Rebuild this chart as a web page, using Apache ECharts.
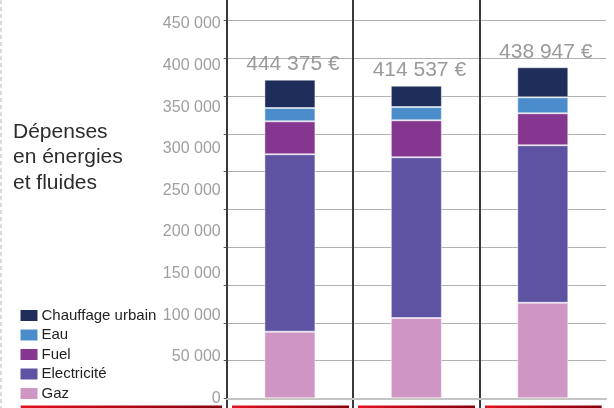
<!DOCTYPE html>
<html>
<head>
<meta charset="utf-8">
<script src="https://cdn.jsdelivr.net/npm/echarts@6/dist/echarts.min.js"></script>
<style>
html,body{margin:0;padding:0;background:#fff;}
#chart{width:614px;height:408px;}
</style>
</head>
<body>
<div id="chart"></div>
<script>
// ---- data ----
var categories = ['Période 1', 'Période 2', 'Période 3'];
var gaz = [80100, 96500, 114900];
var electricite = [213300, 193300, 189300];
var fuel = [39600, 44400, 38500];
var eau = [16000, 16000, 19200];
var chauffageUrbain = [34100, 25600, 36100];
var totalLabels = ['444 375 €', '414 537 €', '438 947 €'];
var legendOrder = ['Chauffage urbain', 'Eau', 'Fuel', 'Electricité', 'Gaz'];
var titleText = 'Dépenses\nen énergies\net fluides';

var colors = {
  'Gaz': '#cf96c4',
  'Electricité': '#5e53a2',
  'Fuel': '#85378f',
  'Eau': '#4b8dcb',
  'Chauffage urbain': '#1e2d5a'
};

function fmt(v) {
  return String(v).replace(/\B(?=(\d{3})+(?!\d))/g, ' ');
}

var chart = echarts.init(document.getElementById('chart'), null, {renderer: 'canvas'});

function bar(name, data, withLabel) {
  var s = {
    name: name,
    type: 'bar',
    stack: 'total',
    xAxisIndex: 0,
    yAxisIndex: 0,
    barWidth: 51,
    data: data,
    itemStyle: {color: colors[name], borderColor: 'rgba(255,255,255,0.45)', borderWidth: 1},
    emphasis: {disabled: true}
  };
  if (withLabel) {
    s.label = {
      show: true,
      position: 'top',
      distance: 5,
      offset: [3, 0],
      fontFamily: 'Liberation Sans, Arial, sans-serif',
      fontSize: 21,
      color: '#9a9a9a',
      formatter: function (p) { return totalLabels[p.dataIndex]; }
    };
  }
  return s;
}

var redGrad = new echarts.graphic.LinearGradient(0, 0, 1, 0, [
  {offset: 0, color: '#e3131f'},
  {offset: 1, color: '#86000f'}
]);

var option = {
  backgroundColor: '#ffffff',
  animation: false,
  title: {
    text: titleText,
    left: 13,
    top: 119,
    padding: 0,
    textStyle: {
      fontFamily: 'Liberation Sans, Arial, sans-serif',
      fontSize: 21,
      fontWeight: 'normal',
      lineHeight: 25.5,
      color: '#2c2c2c'
    }
  },
  legend: {
    data: legendOrder,
    orient: 'vertical',
    left: 20.5,
    top: 308,
    height: 100,
    padding: 0,
    itemWidth: 17,
    itemHeight: 11,
    itemGap: 4.5,
    icon: 'rect',
    selectedMode: false,
    itemStyle: {borderWidth: 0},
    textStyle: {
      fontFamily: 'Liberation Sans, Arial, sans-serif',
      fontSize: 15,
      color: '#222',
      padding: [0, 0, 0, -1]
    }
  },
  grid: [
    {left: 226.7, right: 8, top: 20.7, bottom: 9.7, containLabel: false},
    {left: 226.7, right: 8, top: 0, bottom: 0, containLabel: false}
  ],
  xAxis: [
    {
      type: 'category',
      gridIndex: 0,
      data: categories,
      axisLine: {show: true, lineStyle: {color: '#c4c4c4', width: 2}},
      axisTick: {show: false},
      axisLabel: {show: false},
      splitLine: {show: false}
    },
    {
      type: 'category',
      gridIndex: 1,
      data: categories,
      axisLine: {show: false},
      axisTick: {show: false},
      axisLabel: {show: false},
      splitLine: {show: true, showMaxLine: false, lineStyle: {color: '#3a3a3a', width: 2}}
    }
  ],
  yAxis: [
    {
      type: 'value',
      gridIndex: 0,
      position: 'left',
      min: 0,
      max: 454000,
      interval: 50000,
      axisLine: {show: false},
      axisTick: {show: false},
      splitLine: {show: false},
      axisLabel: {
        show: true,
        showMaxLabel: false,
        margin: 6,
        fontFamily: 'Liberation Sans, Arial, sans-serif',
        fontSize: 16,
        color: '#9e9e9e',
        formatter: fmt
      }
    },
    {
      type: 'value',
      gridIndex: 0,
      position: 'left',
      min: 0,
      max: 10,
      interval: 1,
      axisLine: {show: false},
      axisTick: {show: true, length: 3, lineStyle: {color: '#555'}},
      axisLabel: {show: false},
      splitLine: {show: true, showMinLine: false, lineStyle: {color: '#b2b2b2', width: 1}}
    },
    {
      type: 'value',
      gridIndex: 1,
      show: false
    }
  ],
  series: [
    bar('Gaz', gaz, false),
    bar('Electricité', electricite, false),
    bar('Fuel', fuel, false),
    bar('Eau', eau, false),
    bar('Chauffage urbain', chauffageUrbain, true)
  ],
  graphic: [
    {type: 'line', shape: {x1: 1, y1: 0, x2: 1, y2: 408}, style: {stroke: '#cfcfcf', lineWidth: 1.5, lineDash: [4, 3]}, silent: true},
    {type: 'rect', shape: {x: 20.7, y: 405.5, width: 201.3, height: 3}, style: {fill: redGrad}, silent: true},
    {type: 'rect', shape: {x: 232, y: 405.5, width: 117, height: 3}, style: {fill: redGrad}, silent: true},
    {type: 'rect', shape: {x: 358, y: 405.5, width: 117, height: 3}, style: {fill: redGrad}, silent: true},
    {type: 'rect', shape: {x: 485, y: 405.5, width: 116.7, height: 3}, style: {fill: redGrad}, silent: true}
  ]
};

chart.setOption(option);
</script>
</body>
</html>
